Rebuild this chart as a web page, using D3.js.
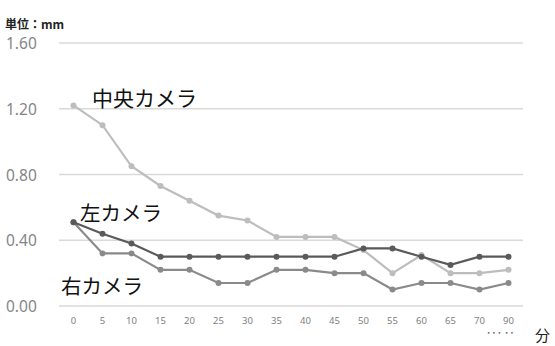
<!DOCTYPE html>
<html>
<head>
<meta charset="utf-8">
<script src="https://cdn.jsdelivr.net/npm/d3@7"></script>
<style>
body { margin: 0; background: #fff; }
text { font-family: "Noto Sans CJK JP", "Noto Sans", sans-serif; }
</style>
</head>
<body>
<script>
// minutes
var minutes = ["0","5","10","15","20","25","30","35","40","45","50","55","60","65","70","90"];
var centerCam = [1.22,1.10,0.85,0.73,0.64,0.55,0.52,0.42,0.42,0.42,0.34,0.20,0.31,0.20,0.20,0.22];
var leftCam   = [0.51,0.44,0.38,0.30,0.30,0.30,0.30,0.30,0.30,0.30,0.35,0.35,0.30,0.25,0.30,0.30];
var rightCam  = [0.51,0.32,0.32,0.22,0.22,0.14,0.14,0.22,0.22,0.20,0.20,0.10,0.14,0.14,0.10,0.14];
var yTicks = [0, 0.4, 0.8, 1.2, 1.6];

var width = 555, height = 346;

var svg = d3.select("body").append("svg")
    .attr("width", width)
    .attr("height", height);

var x = d3.scaleBand().domain(minutes).range([59, 523]);
var y = d3.scaleLinear().domain([0, 1.6]).range([306, 43]);

// gridlines
svg.selectAll(".grid")
    .data(yTicks)
    .enter().append("line")
    .attr("x1", 59).attr("x2", 523)
    .attr("y1", function(d) { return y(d); })
    .attr("y2", function(d) { return y(d); })
    .style("stroke", "#d9d9d9")
    .style("stroke-width", 1.3);

// y labels
svg.selectAll(".ylab")
    .data(yTicks)
    .enter().append("text")
    .attr("x", 6)
    .attr("y", function(d) { return y(d) + 6; })
    .style("font-size", "15.5px")
    .style("fill", "#858585")
    .style("font-family", "'Noto Sans', sans-serif")
    .text(function(d) { return d3.format(".2f")(d); });

// x axis
var xAxis = svg.append("g")
    .attr("transform", "translate(0,314)")
    .call(d3.axisBottom(x).tickSize(0).tickPadding(3));
xAxis.select(".domain").remove();
xAxis.selectAll("text")
    .style("font-size", "9.5px")
    .style("fill", "#808080")
    .style("font-family", "'Noto Sans', sans-serif");

var line = d3.line()
    .x(function(d, i) { return x(minutes[i]) + x.bandwidth() / 2; })
    .y(function(d) { return y(d); });

var series = [
    {vals: centerCam, color: "#bdbdbd"},
    {vals: rightCam, color: "#8a8a8a"},
    {vals: leftCam, color: "#5a5a5a"}
];

series.forEach(function(s) {
    svg.append("path")
        .datum(s.vals)
        .attr("d", line)
        .style("fill", "none")
        .style("stroke", s.color)
        .style("stroke-width", 2.2);
    svg.selectAll(null)
        .data(s.vals)
        .enter().append("circle")
        .attr("cx", function(d, i) { return x(minutes[i]) + x.bandwidth() / 2; })
        .attr("cy", function(d) { return y(d); })
        .attr("r", 3)
        .style("fill", s.color);
});

// labels
svg.append("text").attr("x", 5).attr("y", 29)
    .style("font-size", "12px").style("font-weight", "bold").style("fill", "#222")
    .text("単位：mm");
svg.append("text").attr("x", 92).attr("y", 106)
    .style("font-size", "21px").style("fill", "#111")
    .text("中央カメラ");
svg.append("text").attr("x", 80).attr("y", 221)
    .style("font-size", "20.5px").style("fill", "#111")
    .text("左カメラ");
svg.append("text").attr("x", 61).attr("y", 294)
    .style("font-size", "20.5px").style("fill", "#111")
    .text("右カメラ");
svg.append("text").attr("x", 535).attr("y", 341)
    .style("font-size", "15px").style("fill", "#222")
    .text("分");
svg.append("text").attr("x", 486).attr("y", 336)
    .style("font-size", "9px").style("font-weight", "bold").style("fill", "#666")
    .text("··· ··");
</script>
</body>
</html>
